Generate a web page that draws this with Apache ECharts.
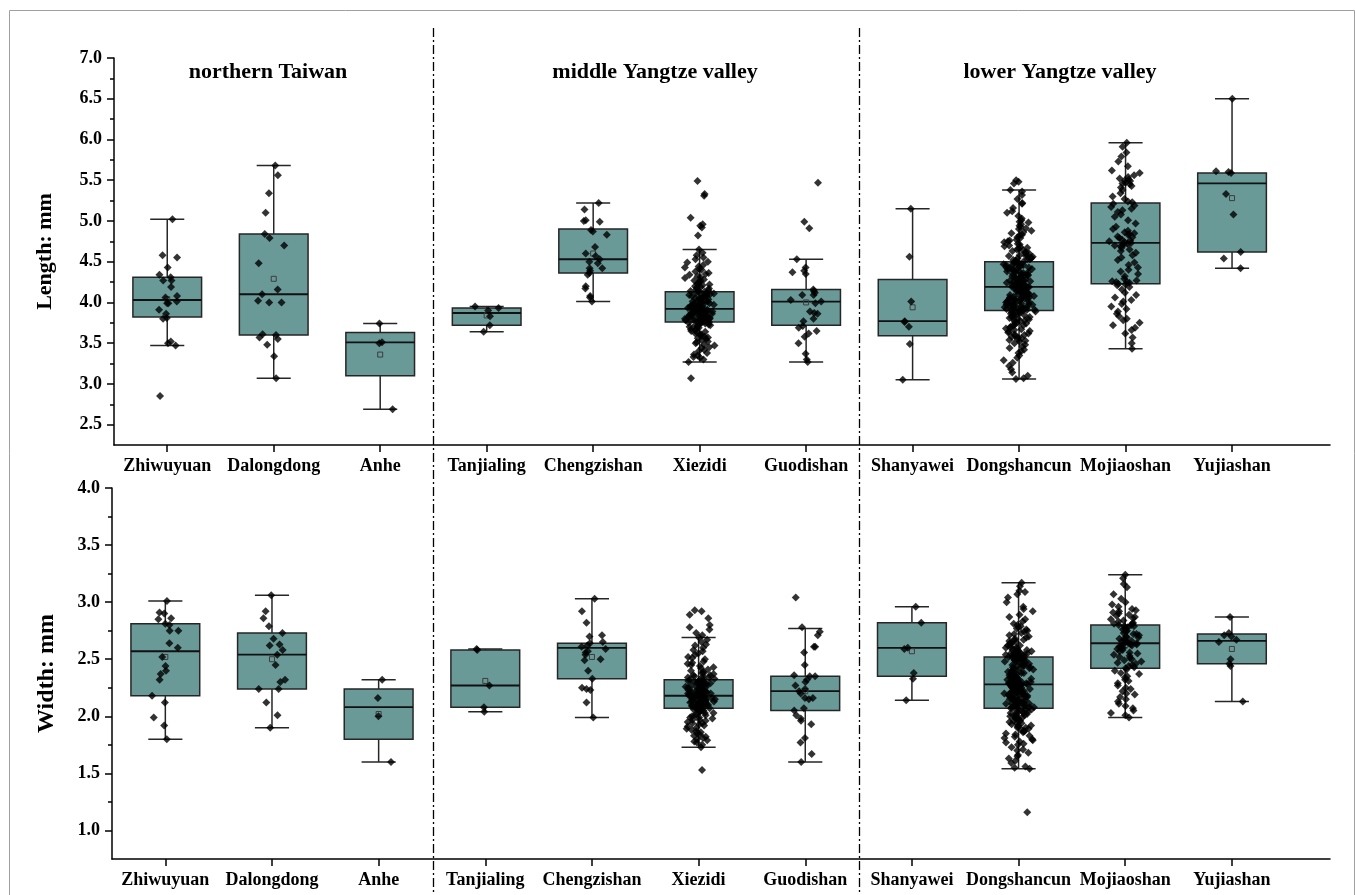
<!DOCTYPE html>
<html>
<head>
<meta charset="utf-8">
<script src="https://cdn.jsdelivr.net/npm/echarts@6/dist/echarts.min.js"></script>
<style>
  html, body { margin: 0; padding: 0; background: #ffffff; }
  #chart { width: 1355px; height: 895px; }
</style>
</head>
<body>
<div id="chart"></div>
<script>
// ---- sites and regions ----
const sites = ['Zhiwuyuan', 'Dalongdong', 'Anhe', 'Tanjialing', 'Chengzishan', 'Xiezidi',
  'Guodishan', 'Shanyawei', 'Dongshancun', 'Mojiaoshan', 'Yujiashan'];
const regionNames = ['northern Taiwan', 'middle Yangtze valley', 'lower Yangtze valley'];
const groupBreaks = [3.5, 7.5];

// ---- axis ticks ----
const lengthTicks = [2.5, 3.0, 3.5, 4.0, 4.5, 5.0, 5.5, 6.0, 6.5, 7.0];
const lengthMinorTicks = [2.75, 3.25, 3.75, 4.25, 4.75, 5.25, 5.75, 6.25, 6.75];
const widthTicks = [1.0, 1.5, 2.0, 2.5, 3.0, 3.5, 4.0];
const widthMinorTicks = [1.25, 1.75, 2.25, 2.75, 3.25, 3.75];

// ---- box statistics: [lower whisker, Q1, median, Q3, upper whisker] ----
const lengthBox = [
  [3.47, 3.82, 4.03, 4.31, 5.02],
  [3.07, 3.60, 4.10, 4.84, 5.68],
  [2.69, 3.10, 3.51, 3.63, 3.74],
  [3.64, 3.72, 3.87, 3.93, 3.95],
  [4.01, 4.36, 4.53, 4.90, 5.22],
  [3.27, 3.76, 3.92, 4.13, 4.65],
  [3.27, 3.72, 4.01, 4.16, 4.53],
  [3.05, 3.59, 3.77, 4.28, 5.15],
  [3.06, 3.90, 4.19, 4.50, 5.38],
  [3.43, 4.23, 4.73, 5.22, 5.96],
  [4.42, 4.62, 5.46, 5.59, 6.50]
];
const lengthMean = [4.04, 4.29, 3.36, 3.84, 4.60, 3.96, 4.00, 3.94, 4.22, 4.72, 5.28];

const widthBox = [
  [1.80, 2.18, 2.57, 2.81, 3.01],
  [1.90, 2.24, 2.54, 2.73, 3.06],
  [1.60, 1.80, 2.08, 2.24, 2.32],
  [2.04, 2.08, 2.27, 2.58, 2.59],
  [1.99, 2.33, 2.60, 2.64, 3.03],
  [1.73, 2.07, 2.18, 2.32, 2.69],
  [1.60, 2.05, 2.22, 2.35, 2.77],
  [2.14, 2.35, 2.60, 2.82, 2.96],
  [1.54, 2.07, 2.28, 2.52, 3.17],
  [1.99, 2.42, 2.64, 2.80, 3.24],
  [2.13, 2.46, 2.66, 2.72, 2.87]
];
const widthMean = [2.52, 2.50, 2.02, 2.31, 2.52, 2.21, 2.22, 2.57, 2.30, 2.62, 2.59];

// ---- individual measurements: length (mm) ----
const L_Zhiwuyuan = [5.02, 4.58, 4.55, 4.43, 4.34, 4.31, 4.27, 4.27, 4.19, 4.08, 4.06, 4.01, 3.99, 3.99, 3.91, 3.86, 3.81, 3.80, 3.52, 3.50, 3.47, 2.85];
const L_Dalongdong = [5.68, 5.56, 5.34, 5.10, 4.84, 4.79, 4.70, 4.48, 4.16, 4.10, 4.02, 4.00, 4.00, 3.61, 3.60, 3.57, 3.55, 3.48, 3.34, 3.07];
const L_Anhe = [3.74, 3.51, 3.50, 2.69];
const L_Tanjialing = [3.95, 3.93, 3.90, 3.83, 3.72, 3.64];
const L_Chengzishan = [5.22, 5.14, 5.01, 5.00, 4.99, 4.89, 4.87, 4.83, 4.68, 4.60, 4.57, 4.53, 4.50, 4.48, 4.42, 4.42, 4.39, 4.36, 4.34, 4.20, 4.17, 4.08, 4.06, 4.01];
const L_Xiezidi = [
  5.49, 5.33, 5.31, 5.04, 4.96, 4.94, 4.92, 4.82, 3.07,
  4.65, 4.61, 4.58, 4.55, 4.53, 4.50, 4.49, 4.46, 4.44, 4.43, 4.41, 4.40, 4.38, 4.36, 4.35, 4.34, 4.32, 4.31, 4.30, 4.28, 4.27, 4.27, 4.25, 4.24, 4.23, 4.22, 4.21, 4.20, 4.19, 4.18, 4.17, 4.16, 4.15, 4.14, 4.14,
  4.13, 4.12, 4.12, 4.11, 4.11, 4.10, 4.09, 4.09, 4.08, 4.08, 4.07, 4.06, 4.06, 4.05, 4.05, 4.04, 4.03, 4.03, 4.02, 4.01, 4.01, 4.00, 4.00, 3.99, 3.99, 3.98, 3.98, 3.97, 3.97, 3.96, 3.96, 3.95, 3.95, 3.95, 3.94, 3.94, 3.93, 3.93, 3.93, 3.92, 3.92, 3.92,
  3.91, 3.91, 3.91, 3.90, 3.90, 3.90, 3.89, 3.89, 3.88, 3.88, 3.88, 3.87, 3.87, 3.86, 3.86, 3.85, 3.85, 3.85, 3.84, 3.84, 3.83, 3.83, 3.82, 3.82, 3.82, 3.81, 3.81, 3.80, 3.80, 3.80, 3.79, 3.79, 3.78, 3.78, 3.78, 3.77, 3.77, 3.77, 3.76, 3.76, 3.76, 3.76,
  3.75, 3.74, 3.74, 3.73, 3.72, 3.72, 3.71, 3.70, 3.69, 3.68, 3.67, 3.66, 3.65, 3.64, 3.63, 3.62, 3.61, 3.60, 3.59, 3.58, 3.57, 3.56, 3.55, 3.54, 3.52, 3.51, 3.50, 3.48, 3.47, 3.45, 3.44, 3.42, 3.40, 3.38, 3.36, 3.35, 3.33, 3.32, 3.30, 3.27
];
const L_Guodishan = [5.47, 4.99, 4.91, 4.53, 4.43, 4.39, 4.37, 4.35, 4.16, 4.14, 4.12, 4.09, 4.09, 4.03, 4.01, 3.99, 3.89, 3.87, 3.86, 3.80, 3.77, 3.71, 3.69, 3.65, 3.62, 3.58, 3.50, 3.37, 3.30, 3.27];
const L_Shanyawei = [5.15, 4.56, 4.01, 3.77, 3.76, 3.70, 3.49, 3.05];
const L_Dongshancun = [
  5.50, 5.48, 5.46, 5.38, 5.36, 5.32, 5.27, 5.22, 5.21, 5.16, 5.12, 5.10, 5.06, 5.03, 5.01, 4.99, 4.98, 4.96, 4.94, 4.93, 4.91, 4.90, 4.88, 4.86, 4.85, 4.83, 4.82, 4.80, 4.79, 4.77,
  4.76, 4.75, 4.74, 4.72, 4.71, 4.70, 4.69, 4.68, 4.67, 4.66, 4.65, 4.64, 4.63, 4.62, 4.61, 4.60, 4.59, 4.58, 4.57, 4.57, 4.56, 4.55, 4.54, 4.54, 4.53, 4.53, 4.52, 4.51, 4.51, 4.50,
  4.50, 4.49, 4.49, 4.48, 4.47, 4.47, 4.46, 4.46, 4.45, 4.44, 4.44, 4.43, 4.43, 4.42, 4.41, 4.41, 4.40, 4.40, 4.39, 4.38, 4.38, 4.37, 4.37, 4.36, 4.35, 4.35, 4.34, 4.33, 4.33, 4.32,
  4.31, 4.31, 4.30, 4.30, 4.29, 4.28, 4.28, 4.27, 4.27, 4.26, 4.25, 4.25, 4.24, 4.24, 4.23, 4.23, 4.22, 4.22, 4.21, 4.21, 4.21, 4.20, 4.20, 4.20, 4.19, 4.19, 4.19, 4.19, 4.19, 4.19,
  4.18, 4.18, 4.17, 4.17, 4.16, 4.16, 4.15, 4.15, 4.14, 4.14, 4.13, 4.13, 4.12, 4.12, 4.11, 4.11, 4.10, 4.10, 4.09, 4.09, 4.08, 4.08, 4.07, 4.07, 4.06, 4.06, 4.05, 4.05, 4.04, 4.04,
  4.03, 4.03, 4.02, 4.02, 4.01, 4.01, 4.00, 4.00, 3.99, 3.99, 3.98, 3.98, 3.97, 3.97, 3.96, 3.96, 3.95, 3.95, 3.94, 3.94, 3.93, 3.93, 3.92, 3.92, 3.92, 3.91, 3.91, 3.91, 3.90, 3.90,
  3.89, 3.89, 3.88, 3.87, 3.87, 3.86, 3.85, 3.85, 3.84, 3.83, 3.82, 3.82, 3.81, 3.80, 3.79, 3.78, 3.78, 3.77, 3.76, 3.75, 3.74, 3.73, 3.72, 3.71, 3.70, 3.69, 3.68, 3.67, 3.66, 3.65,
  3.64, 3.63, 3.62, 3.61, 3.60, 3.59, 3.58, 3.57, 3.56, 3.55, 3.54, 3.53, 3.52, 3.50, 3.48, 3.46, 3.44, 3.42, 3.40, 3.38, 3.35, 3.32, 3.29, 3.26, 3.22, 3.18, 3.14, 3.10, 3.07, 3.06
];
const L_Mojiaoshan = [
  5.96, 5.91, 5.84, 5.79, 5.73, 5.67, 5.62, 5.59, 5.56, 5.54, 5.52, 5.51, 5.50, 5.49, 5.47, 5.46, 5.45, 5.43, 5.41, 5.38, 5.34, 5.30, 5.27, 5.24, 5.23,
  5.21, 5.19, 5.17, 5.15, 5.13, 5.11, 5.08, 5.05, 5.01, 4.97, 4.93, 4.90, 4.88, 4.86, 4.85, 4.84, 4.83, 4.81, 4.80, 4.79, 4.77, 4.76, 4.75, 4.74, 4.73,
  4.72, 4.71, 4.70, 4.69, 4.67, 4.65, 4.63, 4.61, 4.58, 4.55, 4.52, 4.49, 4.46, 4.43, 4.40, 4.38, 4.35, 4.32, 4.29, 4.27, 4.26, 4.25, 4.25, 4.24, 4.23,
  4.22, 4.21, 4.19, 4.16, 4.12, 4.09, 4.06, 4.03, 4.01, 3.98, 3.95, 3.92, 3.89, 3.86, 3.83, 3.80, 3.78, 3.75, 3.72, 3.69, 3.66, 3.62, 3.57, 3.50, 3.43
];
const L_Yujiashan = [6.50, 5.61, 5.60, 5.59, 5.33, 5.08, 4.62, 4.54, 4.42];

// ---- individual measurements: width (mm) ----
const W_Zhiwuyuan = [3.01, 2.91, 2.90, 2.86, 2.85, 2.81, 2.80, 2.75, 2.75, 2.64, 2.60, 2.52, 2.44, 2.40, 2.37, 2.32, 2.18, 2.12, 1.99, 1.92, 1.80];
const W_Dalongdong = [3.06, 2.92, 2.86, 2.79, 2.73, 2.68, 2.63, 2.62, 2.58, 2.54, 2.45, 2.32, 2.30, 2.24, 2.24, 2.12, 2.01, 1.90];
const W_Anhe = [2.32, 2.16, 2.00, 1.60];
const W_Tanjialing = [2.59, 2.58, 2.27, 2.08, 2.04];
const W_Chengzishan = [3.03, 2.92, 2.82, 2.71, 2.70, 2.65, 2.64, 2.62, 2.61, 2.59, 2.57, 2.56, 2.54, 2.50, 2.49, 2.40, 2.33, 2.25, 2.24, 2.23, 2.12, 1.99];
const W_Xiezidi = [
  2.93, 2.92, 2.89, 2.86, 2.80, 2.78, 2.76, 2.73, 2.71, 1.53,
  2.69, 2.67, 2.65, 2.63, 2.62, 2.60, 2.58, 2.57, 2.55, 2.54, 2.52, 2.51, 2.50, 2.48, 2.47, 2.46, 2.45, 2.44, 2.43, 2.42, 2.41, 2.40, 2.39, 2.38, 2.38, 2.37, 2.36, 2.36, 2.35, 2.35, 2.34, 2.34, 2.33, 2.33, 2.32,
  2.32, 2.31, 2.31, 2.31, 2.30, 2.30, 2.30, 2.29, 2.29, 2.28, 2.28, 2.28, 2.27, 2.27, 2.26, 2.26, 2.26, 2.25, 2.25, 2.24, 2.24, 2.24, 2.23, 2.23, 2.23, 2.22, 2.22, 2.22, 2.21, 2.21, 2.21, 2.20, 2.20, 2.20, 2.20, 2.19, 2.19, 2.19, 2.19, 2.18, 2.18, 2.18,
  2.17, 2.17, 2.17, 2.17, 2.16, 2.16, 2.16, 2.16, 2.15, 2.15, 2.15, 2.15, 2.14, 2.14, 2.14, 2.14, 2.13, 2.13, 2.13, 2.13, 2.12, 2.12, 2.12, 2.12, 2.11, 2.11, 2.11, 2.11, 2.10, 2.10, 2.10, 2.10, 2.09, 2.09, 2.09, 2.09, 2.08, 2.08, 2.08, 2.08, 2.07, 2.07,
  2.06, 2.06, 2.05, 2.05, 2.04, 2.04, 2.03, 2.03, 2.02, 2.01, 2.01, 2.00, 1.99, 1.99, 1.98, 1.97, 1.97, 1.96, 1.95, 1.94, 1.94, 1.93, 1.92, 1.91, 1.90, 1.89, 1.88, 1.87, 1.86, 1.85, 1.84, 1.83, 1.82, 1.81, 1.80, 1.79, 1.78, 1.77, 1.75, 1.73
];
const W_Guodishan = [3.04, 2.78, 2.74, 2.71, 2.61, 2.61, 2.56, 2.45, 2.36, 2.35, 2.35, 2.32, 2.30, 2.27, 2.24, 2.22, 2.20, 2.16, 2.16, 2.15, 2.07, 2.05, 2.01, 1.98, 1.96, 1.93, 1.81, 1.77, 1.67, 1.60];
const W_Shanyawei = [2.96, 2.82, 2.60, 2.59, 2.38, 2.33, 2.14];
const W_Dongshancun = [
  3.17, 3.14, 3.10, 3.09, 3.07, 3.04, 3.00, 2.96, 2.94, 2.92, 2.89, 2.87, 2.85, 2.83, 2.81, 2.80, 2.79, 2.78, 2.77, 2.76, 2.75, 2.74, 2.73, 2.72, 2.71, 2.70, 2.69, 2.68, 2.67, 2.67,
  2.66, 2.65, 2.64, 2.64, 2.63, 2.62, 2.62, 2.61, 2.60, 2.60, 2.59, 2.59, 2.58, 2.58, 2.57, 2.57, 2.56, 2.56, 2.55, 2.55, 2.55, 2.54, 2.54, 2.54, 2.53, 2.53, 2.53, 2.52, 2.52, 2.52,
  2.51, 2.51, 2.51, 2.50, 2.50, 2.50, 2.49, 2.49, 2.48, 2.48, 2.47, 2.47, 2.46, 2.46, 2.45, 2.45, 2.44, 2.44, 2.43, 2.43, 2.42, 2.42, 2.41, 2.41, 2.40, 2.40, 2.39, 2.39, 2.38, 2.38,
  2.37, 2.37, 2.36, 2.36, 2.35, 2.35, 2.34, 2.34, 2.34, 2.33, 2.33, 2.33, 2.32, 2.32, 2.32, 2.31, 2.31, 2.31, 2.30, 2.30, 2.30, 2.30, 2.29, 2.29, 2.29, 2.29, 2.28, 2.28, 2.28, 2.28,
  2.27, 2.27, 2.27, 2.26, 2.26, 2.26, 2.25, 2.25, 2.25, 2.24, 2.24, 2.24, 2.23, 2.23, 2.23, 2.22, 2.22, 2.22, 2.21, 2.21, 2.21, 2.20, 2.20, 2.20, 2.19, 2.19, 2.19, 2.18, 2.18, 2.18,
  2.17, 2.17, 2.17, 2.16, 2.16, 2.16, 2.15, 2.15, 2.15, 2.14, 2.14, 2.14, 2.13, 2.13, 2.12, 2.12, 2.12, 2.11, 2.11, 2.11, 2.10, 2.10, 2.10, 2.09, 2.09, 2.09, 2.08, 2.08, 2.08, 2.07,
  2.07, 2.06, 2.06, 2.05, 2.05, 2.04, 2.04, 2.03, 2.03, 2.02, 2.02, 2.01, 2.01, 2.00, 2.00, 1.99, 1.99, 1.98, 1.98, 1.97, 1.96, 1.96, 1.95, 1.94, 1.94, 1.93, 1.92, 1.92, 1.91, 1.90,
  1.90, 1.89, 1.88, 1.87, 1.87, 1.86, 1.85, 1.84, 1.83, 1.82, 1.81, 1.80, 1.79, 1.78, 1.77, 1.76, 1.75, 1.73, 1.71, 1.70, 1.68, 1.66, 1.65, 1.63, 1.61, 1.59, 1.56, 1.55, 1.54, 1.16
];
const W_Mojiaoshan = [
  3.24, 3.21, 3.16, 3.13, 3.07, 3.03, 3.00, 2.98, 2.96, 2.94, 2.93, 2.92, 2.91, 2.90, 2.89, 2.88, 2.87, 2.86, 2.85, 2.84, 2.83, 2.82, 2.81, 2.81, 2.80,
  2.80, 2.79, 2.79, 2.78, 2.77, 2.77, 2.76, 2.75, 2.74, 2.73, 2.72, 2.72, 2.71, 2.70, 2.69, 2.69, 2.68, 2.67, 2.67, 2.66, 2.66, 2.65, 2.65, 2.64, 2.64,
  2.63, 2.63, 2.62, 2.62, 2.61, 2.60, 2.60, 2.59, 2.58, 2.57, 2.56, 2.55, 2.54, 2.53, 2.52, 2.51, 2.50, 2.49, 2.48, 2.47, 2.46, 2.45, 2.44, 2.43, 2.42,
  2.41, 2.40, 2.38, 2.37, 2.35, 2.34, 2.32, 2.31, 2.29, 2.27, 2.25, 2.24, 2.22, 2.20, 2.19, 2.17, 2.15, 2.13, 2.11, 2.09, 2.07, 2.05, 2.03, 2.01, 1.99
];
const W_Yujiashan = [2.87, 2.73, 2.71, 2.70, 2.67, 2.65, 2.50, 2.46, 2.44, 2.13];

const lengthPoints = [L_Zhiwuyuan, L_Dalongdong, L_Anhe, L_Tanjialing, L_Chengzishan, L_Xiezidi,
  L_Guodishan, L_Shanyawei, L_Dongshancun, L_Mojiaoshan, L_Yujiashan];
const widthPoints = [W_Zhiwuyuan, W_Dalongdong, W_Anhe, W_Tanjialing, W_Chengzishan, W_Xiezidi,
  W_Guodishan, W_Shanyawei, W_Dongshancun, W_Mojiaoshan, W_Yujiashan];

// ---- styling ----
const SERIF = "'Liberation Serif', 'Times New Roman', serif";
const BOX_FILL = '#699a98';
const EDGE = '#262626';
const BOX_W = 0.645;   // box width in category units
const CAP_W = 0.32;    // whisker cap width in category units
const JITTER = 0.32;   // full horizontal spread of the raw points

// repeatable scatter offset, heavier towards the box centre line
function hash(n) {
  const s = Math.sin(n * 12.9898 + 78.233) * 43758.5453;
  return s - Math.floor(s);
}
function jitter(site, i) {
  const a = hash(site * 1000 + i * 2 + 1);
  const b = hash(site * 1000 + i * 2 + 2);
  return ((a + b) / 2 - 0.5) * JITTER;
}

function boxData(box, mean) {
  return box.map((b, s) => [s + 1, b[0], b[1], b[2], b[3], b[4], mean[s]]);
}

function pointData(groups, seed) {
  const out = [];
  groups.forEach((vals, s) => vals.forEach((v, i) => out.push([s + 1 + jitter(s + seed, i), v])));
  return out;
}

function renderBox(params, api) {
  const x = api.value(0);
  const cx = api.coord([x, api.value(3)])[0];
  const yMin = api.coord([x, api.value(1)])[1];
  const yQ1 = api.coord([x, api.value(2)])[1];
  const yMed = api.coord([x, api.value(3)])[1];
  const yQ3 = api.coord([x, api.value(4)])[1];
  const yMax = api.coord([x, api.value(5)])[1];
  const yMean = api.coord([x, api.value(6)])[1];
  const bw = api.size([BOX_W, 0])[0];
  const cw = api.size([CAP_W, 0])[0];
  const ln = { stroke: EDGE, lineWidth: 1.5 };
  return {
    type: 'group',
    children: [
      { type: 'line', shape: { x1: cx, y1: yMax, x2: cx, y2: yQ3 }, style: ln },
      { type: 'line', shape: { x1: cx, y1: yQ1, x2: cx, y2: yMin }, style: ln },
      { type: 'line', shape: { x1: cx - cw / 2, y1: yMax, x2: cx + cw / 2, y2: yMax }, style: ln },
      { type: 'line', shape: { x1: cx - cw / 2, y1: yMin, x2: cx + cw / 2, y2: yMin }, style: ln },
      { type: 'rect', shape: { x: cx - bw / 2, y: yQ3, width: bw, height: yQ1 - yQ3 },
        style: { fill: BOX_FILL, stroke: EDGE, lineWidth: 1.5 } },
      { type: 'line', shape: { x1: cx - bw / 2, y1: yMed, x2: cx + bw / 2, y2: yMed },
        style: { stroke: '#111', lineWidth: 1.8 } },
      { type: 'rect', shape: { x: cx - 2.5, y: yMean - 2.5, width: 5, height: 5 },
        style: { fill: 'none', stroke: '#3c3c3c', lineWidth: 1 } }
    ]
  };
}

const labelFont = { fontFamily: SERIF, fontWeight: 'bold', fontSize: 18, color: '#000' };
const axisLineStyle = { color: '#000', width: 1.5 };
const xTicks = sites.map((_, i) => i + 1);

function siteAxis(gridIndex) {
  return {
    type: 'value', gridIndex, min: 0.5, max: 11.92,
    axisLine: { show: true, onZero: false, lineStyle: axisLineStyle },
    axisTick: { show: true, inside: false, length: 7, customValues: xTicks, lineStyle: axisLineStyle },
    axisLabel: Object.assign({ customValues: xTicks, margin: 12,
      formatter: v => sites[Math.round(v) - 1] }, labelFont),
    splitLine: { show: false }
  };
}

function hiddenAxis(gridIndex) {
  return { type: 'value', gridIndex, min: 0.5, max: 11.92, show: false };
}

function valueAxis(gridIndex, min, max, ticks, name, nameGap, nameSize) {
  return {
    type: 'value', gridIndex, min, max,
    axisLine: { show: true, onZero: false, lineStyle: axisLineStyle },
    axisTick: { show: true, inside: false, length: 7, customValues: ticks, lineStyle: axisLineStyle },
    axisLabel: Object.assign({ customValues: ticks, margin: 12, formatter: v => v.toFixed(1) }, labelFont),
    splitLine: { show: false },
    name, nameLocation: 'middle', nameRotate: 90, nameGap,
    nameTextStyle: { fontFamily: SERIF, fontWeight: 'bold', fontSize: nameSize, color: '#000' }
  };
}

function minorAxis(gridIndex, min, max, ticks) {
  return {
    type: 'value', gridIndex, min, max,
    axisLine: { show: false },
    axisTick: { show: true, inside: false, length: 4, customValues: ticks, lineStyle: axisLineStyle },
    axisLabel: { show: false },
    splitLine: { show: false }
  };
}

const TOP = { left: 114, top: 58, width: 1216, height: 387 };
const BOTTOM = { left: 112, top: 488, width: 1218, height: 371 };

const chart = echarts.init(document.getElementById('chart'), null, { renderer: 'canvas' });

chart.setOption({
  animation: false,
  backgroundColor: '#ffffff',
  grid: [
    Object.assign({ containLabel: false }, TOP),
    Object.assign({ containLabel: false }, BOTTOM),
    Object.assign({ containLabel: false }, TOP),
    Object.assign({ containLabel: false }, BOTTOM)
  ],
  xAxis: [siteAxis(0), siteAxis(1), hiddenAxis(2), hiddenAxis(3)],
  yAxis: [
    valueAxis(0, 2.25, 7.0, lengthTicks, 'Length: mm', 58, 22),
    valueAxis(1, 0.75, 4.0, widthTicks, 'Width: mm', 53, 24),
    minorAxis(2, 2.25, 7.0, lengthMinorTicks),
    minorAxis(3, 0.75, 4.0, widthMinorTicks)
  ],
  series: [
    { type: 'custom', name: 'Length box', xAxisIndex: 0, yAxisIndex: 0,
      renderItem: renderBox, encode: { x: 0, y: [1, 2, 3, 4, 5] },
      data: boxData(lengthBox, lengthMean), z: 2 },
    { type: 'custom', name: 'Width box', xAxisIndex: 1, yAxisIndex: 1,
      renderItem: renderBox, encode: { x: 0, y: [1, 2, 3, 4, 5] },
      data: boxData(widthBox, widthMean), z: 2 },
    { type: 'scatter', name: 'Length', xAxisIndex: 0, yAxisIndex: 0,
      symbol: 'diamond', symbolSize: 8, itemStyle: { color: '#000' },
      data: pointData(lengthPoints, 0), z: 3 },
    { type: 'scatter', name: 'Width', xAxisIndex: 1, yAxisIndex: 1,
      symbol: 'diamond', symbolSize: 8, itemStyle: { color: '#000' },
      data: pointData(widthPoints, 50), z: 3 }
  ]
});

// frame, region separators and region headings
const headingX = [268, 655, 1060];
const graphics = [
  { type: 'rect', silent: true, z: 0,
    shape: { x: 9.5, y: 10.5, width: 1345, height: 900 },
    style: { fill: 'none', stroke: '#a0a0a0', lineWidth: 1 } }
];
groupBreaks.forEach(v => {
  const xa = chart.convertToPixel({ xAxisIndex: 0 }, v);
  const xb = chart.convertToPixel({ xAxisIndex: 1 }, v);
  const x = Math.round((xa + xb) / 2) + 0.5;
  graphics.push({ type: 'line', silent: true, z: 10,
    shape: { x1: x, y1: 28, x2: x, y2: 895 },
    style: { stroke: '#000', lineWidth: 1.3, lineDash: [9, 3, 2, 3] } });
});
regionNames.forEach((t, i) => {
  graphics.push({ type: 'text', silent: true, z: 10, x: headingX[i], y: 72,
    style: { text: t, fontFamily: SERIF, fontWeight: 'bold', fontSize: 22, fill: '#000',
      align: 'center', verticalAlign: 'middle' } });
});
chart.setOption({ graphic: graphics });
</script>
</body>
</html>
